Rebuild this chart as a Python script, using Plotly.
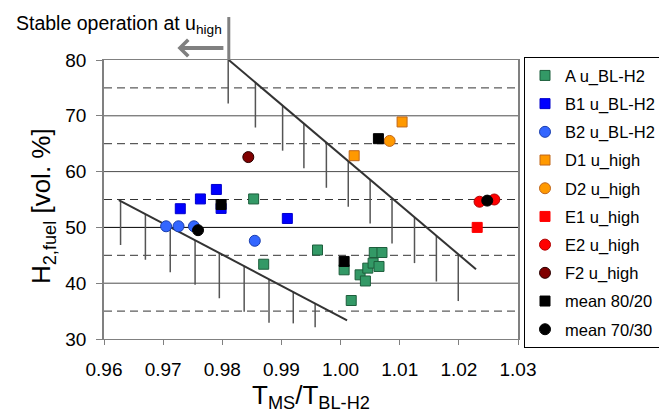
import plotly.graph_objects as go
import numpy as np

# ---- data (x = T_MS/T_BL-H2, y = H2,fuel [vol. %]) ----
A_x = [0.9853, 0.9870, 0.9961, 1.0006, 1.0018, 1.0033, 1.0042, 1.0046, 1.0055, 1.0057, 1.0065, 1.0070]
A_y = [55.1, 43.4, 45.95, 42.4, 36.9, 41.5, 40.4, 42.7, 43.6, 45.5, 43.0, 45.5]
B1_x = [0.9729, 0.9763, 0.9790, 0.9798, 0.9910]
B1_y = [53.35, 55.1, 56.8, 53.4, 51.6]
B2_x = [0.9705, 0.9726, 0.9752, 0.9855]
B2_y = [50.2, 50.2, 50.2, 47.6]
D1_x = [1.0023, 1.0104]
D1_y = [62.85, 68.9]
D2_x = [1.0083]
D2_y = [65.5]
E1_x = [1.0231]
E1_y = [50.0]
E2_x = [1.0235, 1.0260]
E2_y = [54.6, 55.0]
F2_x = [0.9844]
F2_y = [62.6]
M80_x = [0.9798, 1.0006, 1.0064]
M80_y = [54.1, 43.9, 65.9]
M70_x = [0.9759, 1.0248]
M70_y = [49.5, 54.8]

# stability boundary lines and their hatch marks
upper_line_x = [0.9811, 1.0229]
upper_line_y = [80.0, 42.5]
upper_hatch_x = [0.9810, 0.9856, 0.9902, 0.9938, 0.9976, 1.0013, 1.0050, 1.0087, 1.0125, 1.0162, 1.0199]
upper_hatch_bottom = [72.2, 67.9, 63.75, 60.6, 57.1, 53.7, 50.7, 47.1, 43.6, 40.3, 36.8]
lower_line_x = [0.9625, 1.0011]
lower_line_y = [54.9, 33.35]
lower_hatch_x = [0.9628, 0.9670, 0.9712, 0.9754, 0.9795, 0.9837, 0.9879, 0.9920, 0.9957]
lower_hatch_bottom = [46.85, 44.2, 41.95, 39.7, 37.3, 34.9, 32.9, 32.8, 32.1]

x_ticks = [0.96, 0.97, 0.98, 0.99, 1.00, 1.01, 1.02, 1.03]
y_ticks = [30, 40, 50, 60, 70, 80]
solid_grid = [40, 50, 60, 70]
dashed_grid = [35, 45, 55, 65, 75]
X_RANGE = [0.96, 1.03]
Y_RANGE = [30, 80]
stable_x = 0.9811  # "stable operation" marker position

FONT = "Liberation Sans, Arial, sans-serif"

series = [
    ("A u_BL-H2", A_x, A_y, "square", "#339966", "#1d5e3c", 10),
    ("B1 u_BL-H2", B1_x, B1_y, "square", "#0000ff", "#0000cc", 10),
    ("B2 u_BL-H2", B2_x, B2_y, "circle", "#3366ff", "#1a3fb0", 11),
    ("D1 u_high", D1_x, D1_y, "square", "#ff9900", "#c0661a", 10),
    ("D2 u_high", D2_x, D2_y, "circle", "#ff9900", "#c0661a", 11),
    ("E1 u_high", E1_x, E1_y, "square", "#ff0000", "#ff0000", 10),
    ("E2 u_high", E2_x, E2_y, "circle", "#ff0000", "#b00000", 11),
    ("F2 u_high", F2_x, F2_y, "circle", "#800000", "#2a0000", 11),
    ("mean 80/20", M80_x, M80_y, "square", "#000000", "#000000", 10),
    ("mean 70/30", M70_x, M70_y, "circle", "#000000", "#000000", 11),
]

fig = go.Figure()

# hatch marks
def hatch_xy(hx, hb, lx, ly):
    xs, ys = [], []
    tops = np.interp(hx, lx, ly)
    for x, t, b in zip(hx, tops, hb):
        xs += [x, x, None]
        ys += [t, b, None]
    return xs, ys

for hx, hb, lx, ly in [(upper_hatch_x, upper_hatch_bottom, upper_line_x, upper_line_y),
                       (lower_hatch_x, lower_hatch_bottom, lower_line_x, lower_line_y)]:
    xs, ys = hatch_xy(hx, hb, lx, ly)
    fig.add_trace(go.Scatter(x=xs, y=ys, mode="lines", line=dict(color="#555555", width=1.5),
                             showlegend=False, hoverinfo="skip"))
    fig.add_trace(go.Scatter(x=lx, y=ly, mode="lines", line=dict(color="#333333", width=2),
                             showlegend=False, hoverinfo="skip"))

for name, xs, ys, sym, fill, edge, size in series:
    fig.add_trace(go.Scatter(
        x=xs, y=ys, mode="markers", name=name, legendgroup=name,
        marker=dict(symbol=sym, size=size, color=fill, line=dict(color=edge, width=1)),
    ))

shapes = []
for g in solid_grid:
    shapes.append(dict(type="line", xref="paper", yref="y", x0=0, x1=1, y0=g, y1=g, layer="below",
                       line=dict(color="#000000" if g == 50 else "#4d4d4d", width=1)))
for g in dashed_grid:
    shapes.append(dict(type="line", xref="paper", yref="y", x0=0, x1=1, y0=g, y1=g, layer="below",
                       line=dict(color="#333333", width=1, dash="8px,5px")))

# vertical marker line above the plot
sx = (stable_x - X_RANGE[0]) / (X_RANGE[1] - X_RANGE[0])
shapes.append(dict(type="line", xref="paper", yref="paper", x0=sx, x1=sx, y0=1.0, y1=1.154,
                   line=dict(color="#808080", width=3)))

# the page body has an 8px default margin, so the figure is sized/offset to compensate
fig.update_layout(
    width=659, height=407,
    margin=dict(l=96, r=149, t=52, b=76, autoexpand=False),
    paper_bgcolor="white", plot_bgcolor="white",
    font=dict(family=FONT, size=19, color="black"),
    shapes=shapes,
    showlegend=True,
    legend=dict(x=1.0145, y=1.01, xanchor="left", yanchor="top",
                bordercolor="black", borderwidth=1, bgcolor="white", maxheight=400,
                font=dict(family=FONT, size=16.5), traceorder="grouped", tracegroupgap=3.75),
    xaxis=dict(range=X_RANGE, tickvals=x_ticks, ticktext=[f"{v:.2f}" for v in x_ticks],
               showgrid=False, zeroline=False, showline=True, linecolor="#808080", linewidth=1,
               mirror=True, ticks="outside", ticklen=5, tickcolor="#808080", automargin=False,
               ticklabelstandoff=8,
               title=dict(text="T<sub>MS</sub>/T<sub>BL-H2</sub>", font=dict(size=26), standoff=0)),
    yaxis=dict(range=Y_RANGE, tickvals=y_ticks, showgrid=False, zeroline=False, showline=True,
               linecolor="#808080", linewidth=1.5, mirror=True, ticks="outside", ticklen=6,
               tickcolor="#808080", ticklabelstandoff=6, automargin=False),
    annotations=[
        dict(xref="paper", yref="paper", x=-0.1496, y=0.4767, xanchor="center", yanchor="middle",
             textangle=-90, text="H<sub>2,fuel</sub> [vol. %]", showarrow=False,
             font=dict(size=26)),
        dict(xref="paper", yref="paper", x=-0.2165, y=1.129, xanchor="left", yanchor="middle",
             text="Stable operation at u<sub>high</sub>", showarrow=False, font=dict(size=19.5)),
        dict(xref="paper", yref="paper", x=0.1773, y=1.043, ax=50, ay=0,
             axref="pixel", ayref="pixel", text=" ", showarrow=True, arrowhead=4,
             arrowsize=0.8, arrowwidth=4, arrowcolor="#808080"),
    ],
)

fig.write_html("out.html")
